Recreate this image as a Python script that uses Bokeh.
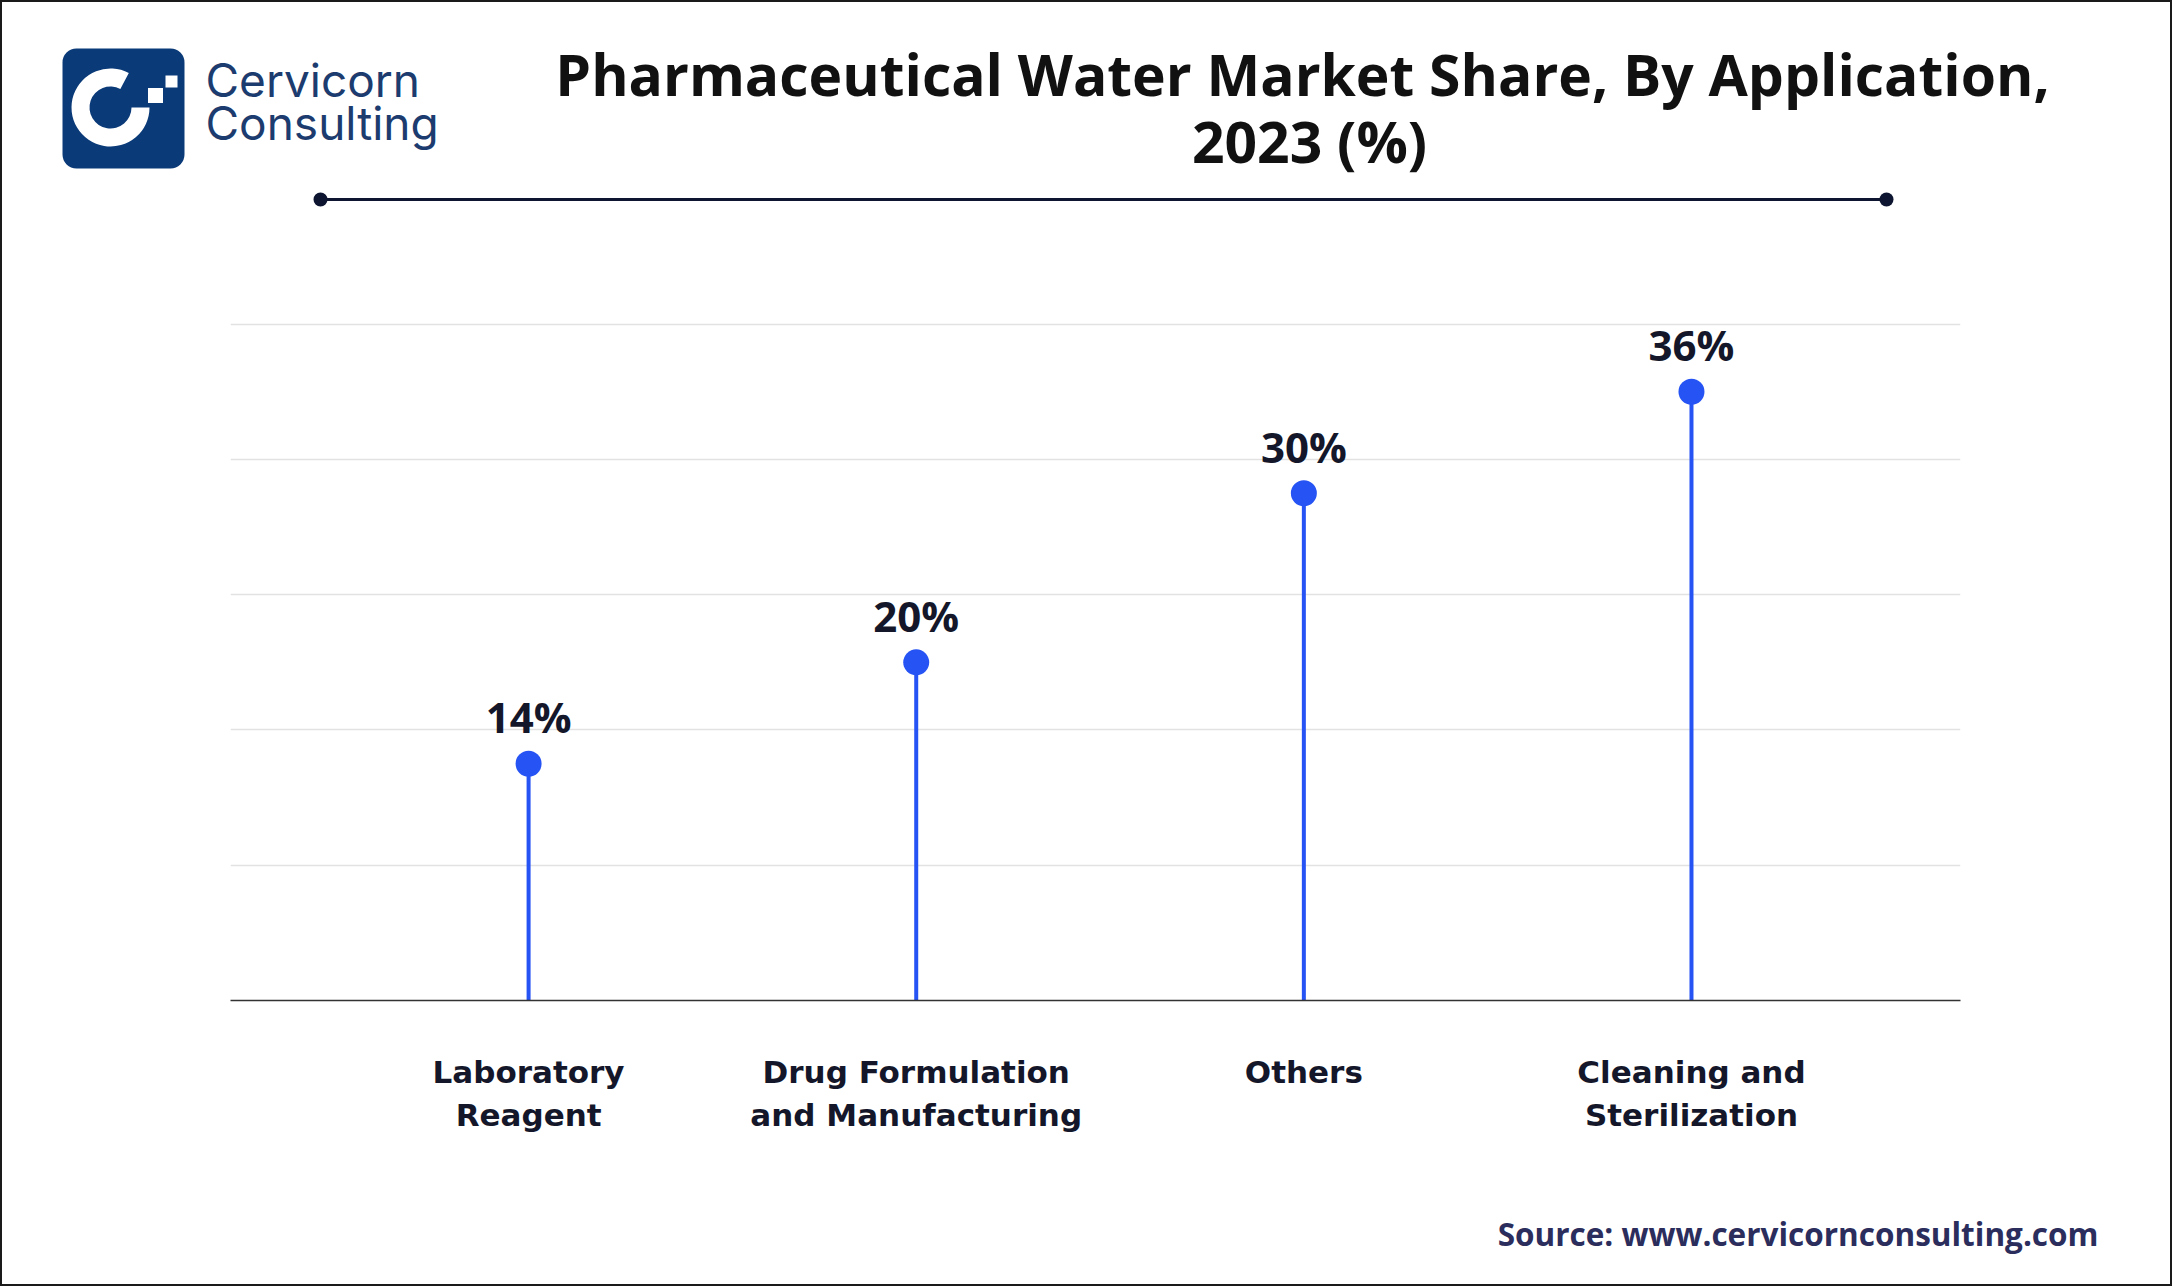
from bokeh.plotting import figure
from bokeh.layouts import column
from bokeh.models import Range1d, FixedTicker, ColumnDataSource
from bokeh.core.properties import value
from bokeh.embed import file_html
from bokeh.resources import INLINE

# ---------------- data ----------------
categories = ["Laboratory\nReagent", "Drug Formulation\nand Manufacturing", "Others", "Cleaning and\nSterilization"]
shares = [14, 20, 30, 36]
share_labels = ["14%", "20%", "30%", "36%"]
grid_ticks = [8, 16, 24, 32, 40]
title_lines = ["Pharmaceutical Water Market Share, By Application,", "2023 (%)"]
brand_lines = ["Cervicorn", "Consulting"]
source_text = "Source: www.cervicornconsulting.com"

W = 2168
HEAD_H = 238
CHART_H = 960
FOOT_H = 84

BLUE = "#2553f4"
DARK = "#14162a"
NAVY = "#0b3a78"


def blank(width, height):
    f = figure(width=width, height=height, x_range=Range1d(0, width), y_range=Range1d(height, 0),
               output_backend="svg", toolbar_location=None, min_border=0, frame_align=False,
               background_fill_color="white", border_fill_color="white")
    f.axis.visible = False
    f.grid.visible = False
    f.outline_line_color = None
    return f

# ---------------- header ----------------
head = blank(W, HEAD_H)
head.quad(left=[60], right=[182], top=[46], bottom=[166], fill_color=NAVY, line_color=None, border_radius=14)
head.annular_wedge(x=[108], y=[105], inner_radius=21, outer_radius=39, start_angle=62, end_angle=360,
                   start_angle_units="deg", end_angle_units="deg", direction="anticlock",
                   fill_color="white", line_color=None)
head.rect(x=[153, 169], y=[93, 79], width=[15, 12], height=[15, 12], fill_color="white", line_color=None)
head.text(x=[203, 203], y=[77, 120], text=brand_lines, text_font=value("Inter"), text_font_size="46px",
          text_color="#1c3b6e", text_baseline="middle", text_align="left")
head.text(x=[1300, 1307], y=[71, 138], text=title_lines, text_font=value("Open Sans"), text_font_style="bold",
          text_font_size="57px", text_color="#111111", text_baseline="middle", text_align="center")
head.segment(x0=[318], y0=[197], x1=[1884], y1=[197], line_color="#0d1530", line_width=3)
head.scatter(x=[318, 1884], y=[197, 197], size=14, fill_color="#0d1530", line_color=None)

# ---------------- chart ----------------
xs = list(range(len(categories)))
src = ColumnDataSource(dict(x=xs, y=shares, zero=[0] * len(xs), lab=share_labels))

p = figure(width=W, height=CHART_H, x_range=Range1d(-0.769, 3.694), y_range=Range1d(0, 44),
           output_backend="svg", toolbar_location=None, frame_align=False,
           min_border_left=228, min_border_right=210, min_border_top=16, min_border_bottom=200,
           background_fill_color="white", border_fill_color="white")
p.outline_line_color = None
p.yaxis.visible = False
p.xgrid.visible = False
p.ygrid.ticker = FixedTicker(ticks=grid_ticks)
p.ygrid.grid_line_color = "#e2e2e2"
p.ygrid.grid_line_width = 1.5

p.xaxis.ticker = FixedTicker(ticks=xs)
p.xaxis.major_label_overrides = {i: c for i, c in zip(xs, categories)}
p.xaxis.major_tick_line_color = None
p.xaxis.minor_tick_line_color = None
p.xaxis.axis_line_color = "#333333"
p.xaxis.axis_line_width = 1.5
p.xaxis.major_label_standoff = 47
p.xaxis.major_label_text_font = "DejaVu Sans"
p.xaxis.major_label_text_font_style = "bold"
p.xaxis.major_label_text_font_size = "31px"
p.xaxis.major_label_text_color = DARK

p.segment(x0="x", y0="zero", x1="x", y1="y", source=src, line_color=BLUE, line_width=4)
p.scatter(x="x", y="y", source=src, size=26, fill_color=BLUE, line_color=None)
p.text(x="x", y="y", text="lab", source=src, y_offset=-47, text_align="center", text_baseline="middle",
       text_font=value("Open Sans"), text_font_style="bold", text_font_size="42px", text_color=DARK)

# ---------------- footer ----------------
foot = blank(W, FOOT_H)
foot.text(x=[2096], y=[33], text=[source_text], text_font=value("Open Sans"), text_font_style="bold",
          text_font_size="31.5px", text_color="#2b2d5c", text_align="right", text_baseline="middle")

layout = column(head, p, foot, spacing=0, styles={"border": "2px solid #1a1a1a"})

open("out.html", "w").write(file_html(layout, INLINE))
